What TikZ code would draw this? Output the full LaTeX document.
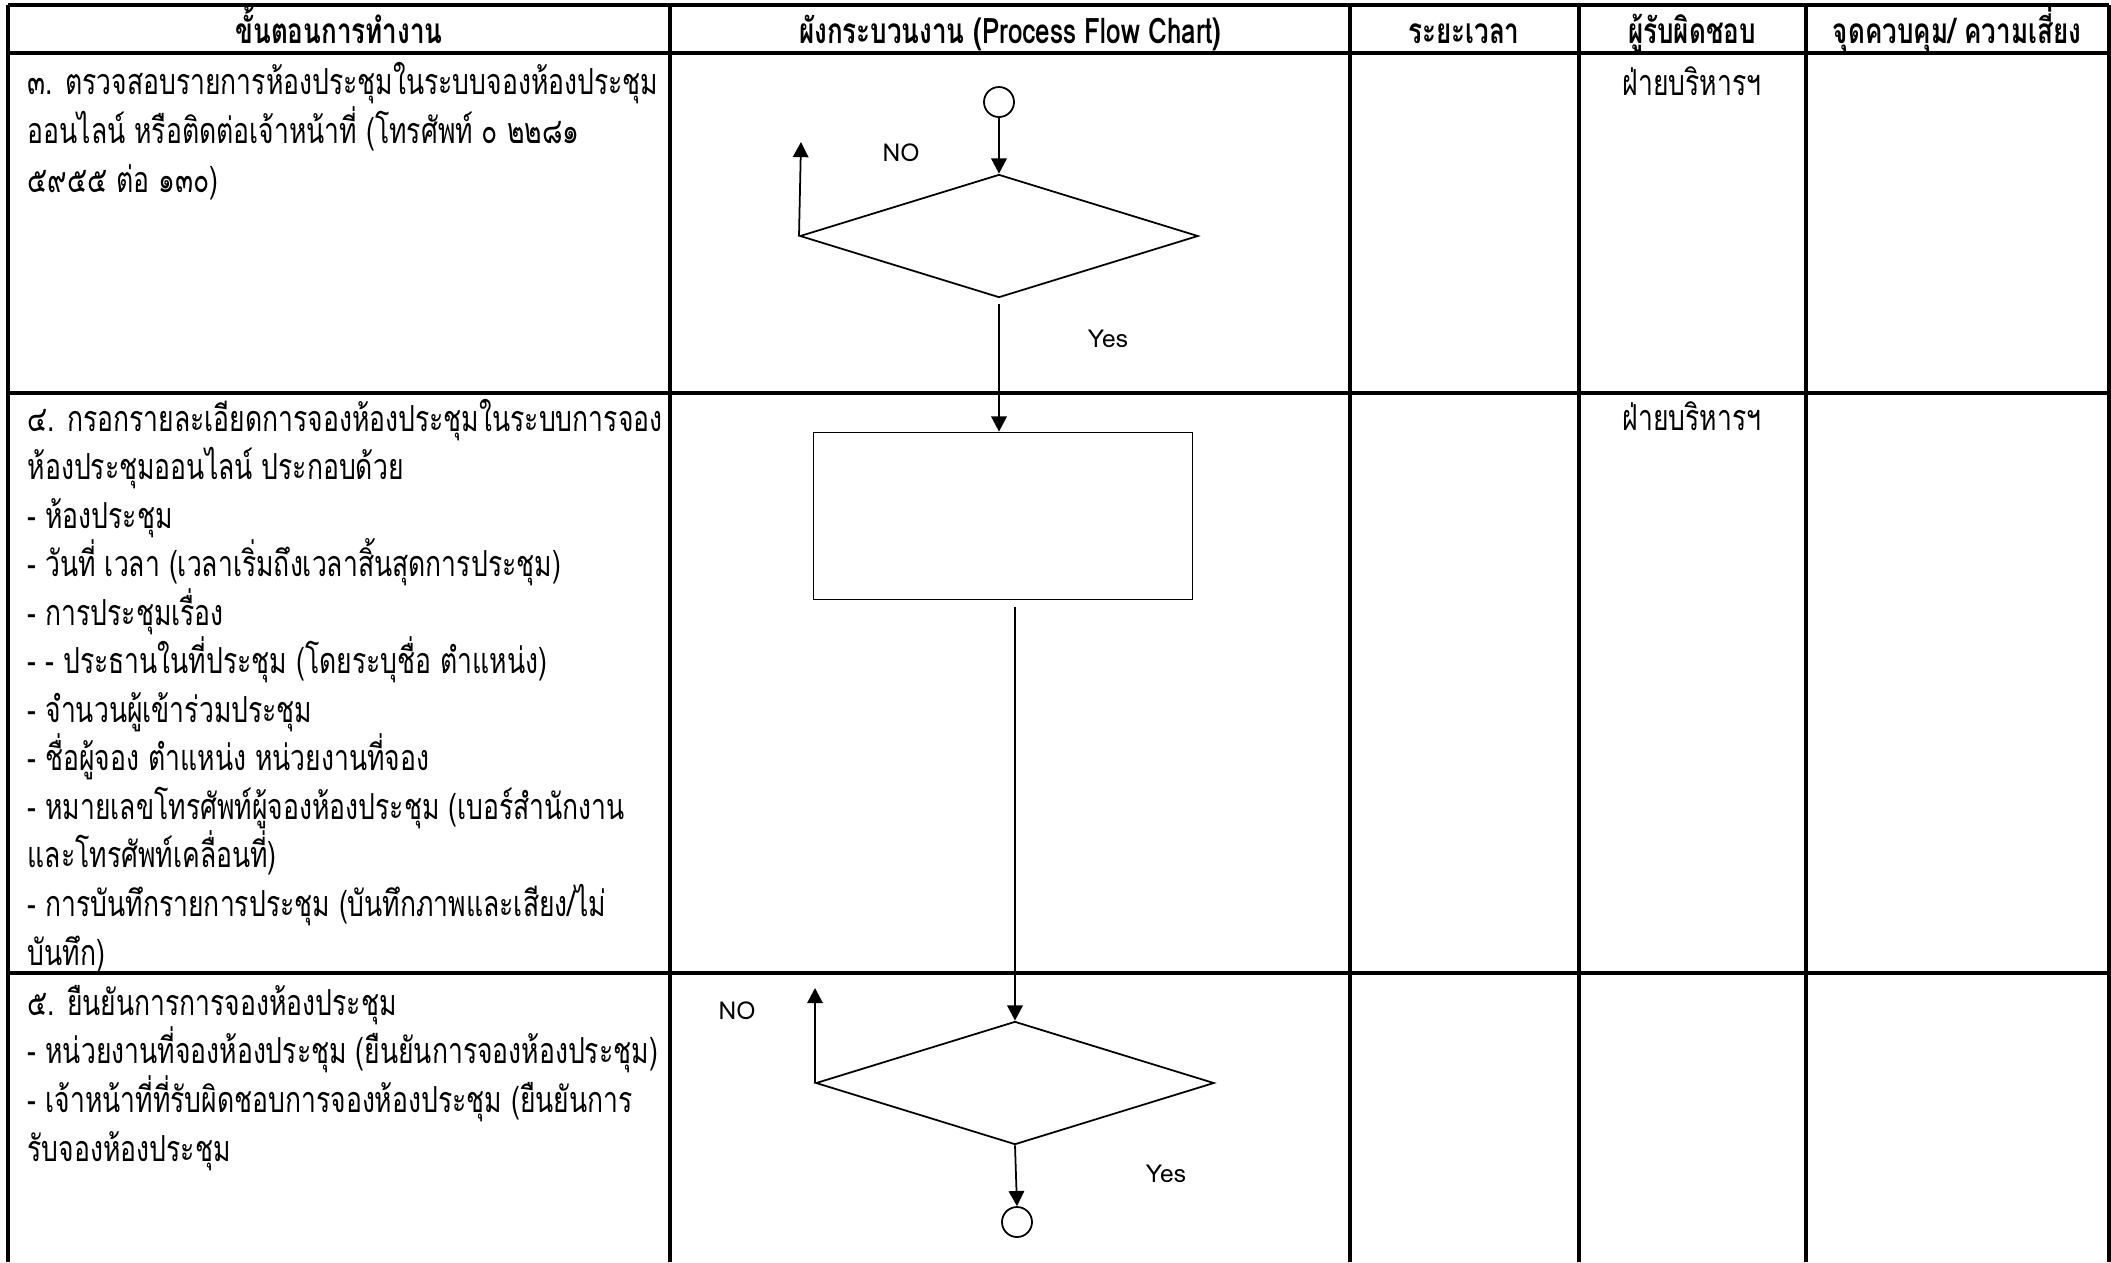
\documentclass[tikz,border=0pt]{standalone}
\usepackage{fontspec}
\setmainfont{Loma}[Script=Thai, FakeStretch=0.74]
\newfontfamily\tagfont{Loma}
\usetikzlibrary{shapes.geometric,arrows.meta,positioning}

% font sizes used in the table
\newcommand\bodysize{\fontsize{10.2}{13.8}\selectfont}
\newcommand\headsize{\fontsize{10}{13.8}\selectfont}
\newcommand\tagsize{\fontsize{7}{9}\selectfont}

\tikzset{
  grid/.style={line width=0.9pt},
  flow/.style={draw, line width=0.5pt},
  arr/.style={line width=0.5pt, -{Triangle[length=4.3pt,width=4.4pt]}},
  terminal/.style={flow, circle, minimum size=0.3cm, inner sep=0pt},
  decision/.style={flow, diamond, minimum width=3.98cm, minimum height=1.23cm, inner sep=0pt},
  process/.style={flow, rectangle, minimum width=3.79cm, minimum height=1.67cm, inner sep=0pt},
  cell/.style={anchor=base west, align=left, inner sep=0pt, font=\bodysize},
  head/.style={anchor=base, inner sep=0pt, font=\headsize\bfseries},
  tag/.style={inner sep=0pt, font=\tagfont\tagsize},
}

\begin{document}
\begin{tikzpicture}[x=0.01cm, y=-0.01cm]

    \useasboundingbox (0,0) rectangle (2111,1262);

    % Table grid
    \foreach \x in {8,670,1350,1579,1806,2109}
        \draw[grid] (\x,5) -- (\x,1262);
    \foreach \y in {5,53,393,973}
        \draw[grid] (8,\y) -- (2109,\y);

    % Column headings
    \node[head] (hstep) at (339,43) {ขั้นตอนการทำงาน};
    \node[head] (hflow) at (1010,43) {ผังกระบวนงาน (Process Flow Chart)};
    \node[head] (htime) at (1464,43) {ระยะเวลา};
    \node[head] (howner) at (1692,43) {ผู้รับผิดชอบ};
    \node[head] (hrisk) at (1957,43) {จุดควบคุม/ ความเสี่ยง};

    % Steps (placed on the baseline of the last line)
    \node[cell] (step3) at (27,192) {๓. ตรวจสอบรายการห้องประชุมในระบบจองห้องประชุม\\
        ออนไลน์ หรือติดต่อเจ้าหน้าที่ (โทรศัพท์ ๐ ๒๒๘๑\\
        ๕๙๕๕ ต่อ ๑๓๐)};
    \node[cell] (step4) at (27,965) {๔. กรอกรายละเอียดการจองห้องประชุมในระบบการจอง\\
        ห้องประชุมออนไลน์ ประกอบด้วย\\
        - ห้องประชุม\\
        - วันที่ เวลา (เวลาเริ่มถึงเวลาสิ้นสุดการประชุม)\\
        - การประชุมเรื่อง\\
        - - ประธานในที่ประชุม (โดยระบุชื่อ ตำแหน่ง)\\
        - จำนวนผู้เข้าร่วมประชุม\\
        - ชื่อผู้จอง ตำแหน่ง หน่วยงานที่จอง\\
        - หมายเลขโทรศัพท์ผู้จองห้องประชุม (เบอร์สำนักงาน\\
        และโทรศัพท์เคลื่อนที่)\\
        - การบันทึกรายการประชุม (บันทึกภาพและเสียง/ไม่\\
        บันทึก)};
    \node[cell] (step5) at (27,1161) {๕. ยืนยันการการจองห้องประชุม\\
        - หน่วยงานที่จองห้องประชุม (ยืนยันการจองห้องประชุม)\\
        - เจ้าหน้าที่ที่รับผิดชอบการจองห้องประชุม (ยืนยันการ\\
        รับจองห้องประชุม};

    % Responsible unit
    \node[head, font=\bodysize] (owner3) at (1692,95) {ฝ่ายบริหารฯ};
    \node[head, font=\bodysize] (owner4) at (1692,430) {ฝ่ายบริหารฯ};

    % Flow chart shapes
    \node[terminal] (start) at (999,102) {};
    \node[decision] (check1) at (999,236) {};
    \node[process] (fill) at (1003,516) {};
    \node[decision] (check2) at (1015,1083) {};
    \node[terminal] (finish) at (1017,1222) {};
    \coordinate (back1) at (801,142);
    \coordinate (back2) at (815,988);

    % Branch labels
    \node[tag] (no1) at (901,153) {NO};
    \node[tag] (yes1) at (1108,339) {Yes};
    \node[tag] (no2) at (737,1011) {NO};
    \node[tag] (yes2) at (1166,1174) {Yes};

    % Connectors
    \draw[arr] (start) -- (check1);
    \draw[arr] (check1.west) -- (back1);
    \draw[arr, shorten <=1.5pt] (check1.south) -- (check1.south |- fill.north);
    \draw[arr, shorten <=2pt] (fill.south -| check2.north) -- (check2.north);
    \draw[arr] (check2.west) -- (back2);
    \draw[arr] (check2.south) -- (finish.north);

\end{tikzpicture}
\end{document}
